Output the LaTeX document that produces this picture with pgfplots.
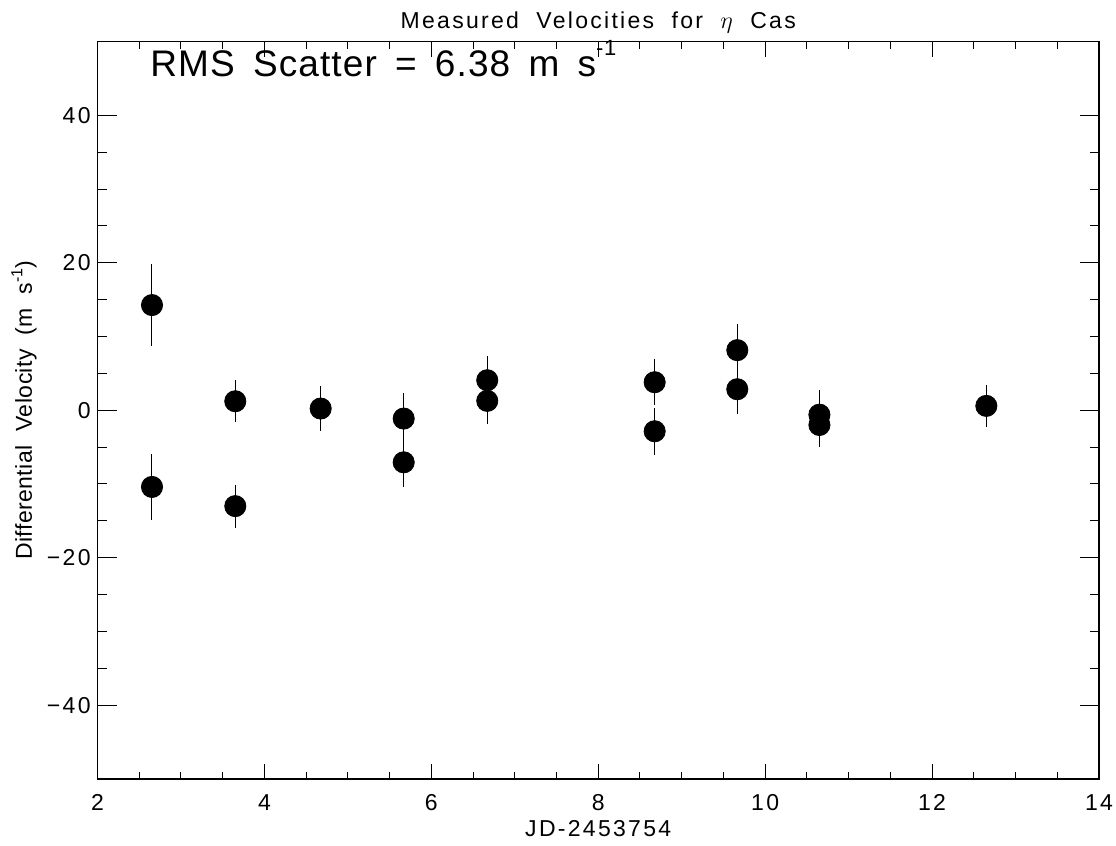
\documentclass[border=0pt]{standalone}
\usepackage{pgfplots}
\pgfplotsset{compat=1.18}
\usepackage{fontspec}
\setmainfont{Liberation Sans}
\newfontfamily\lbl[LetterSpace=10,WordSpace=2]{Liberation Sans}
\newfontfamily\ylbl[LetterSpace=2,WordSpace=2]{Liberation Sans}
\newfontfamily\rmsfont[LetterSpace=3,WordSpace=1.6]{Liberation Sans}
\pgfplotstableread{
x y e
2.653 14.26 5.6
2.653 -10.4 4.5
3.651 1.22 2.85
3.651 -13.0 2.9
4.674 0.23 3.0
5.669 -1.13 3.5
5.669 -7.06 3.35
6.67 4.07 3.3
6.67 1.27 3.2
8.676 3.8 3.1
8.676 -2.85 3.2
9.666 8.15 3.5
9.666 2.85 3.3
10.65 -0.6 3.3
10.65 -2.0 3.0
12.65 0.59 2.9
}\vels
\begin{document}
\begin{tikzpicture}
\begin{axis}[
  at={(0,0)}, anchor=south west,
  scale only axis, width=500.75pt, height=368.75pt,
  xmin=2, xmax=14, ymin=-50, ymax=50,
  xtick={2,4,...,14}, ytick={-40,-20,0,20,40},
  yticklabels={−40,−20,0,20,40},
  minor x tick num=3, minor y tick num=3,
  tick align=inside,
  axis line style={line width=0.6pt},
  tick style={black, line width=0.5pt},
  major tick length=9.7pt, minor tick length=4.7pt,
  xtick style={/pgfplots/major tick length=7.5pt,/pgfplots/minor tick length=3.7pt},
  /pgf/number format/assume math mode=true,
  ticklabel style={font=\lbl\fontsize{11.5}{13}\selectfont},
  xticklabel style={anchor=base, inner sep=0pt, yshift=-16pt},
  yticklabel style={anchor=east, inner sep=0pt, xshift=-3.25pt},
  title={Measured Velocities for $\eta$ Cas},
  title style={font=\lbl\fontsize{11.5}{13}\selectfont, at={(axis description cs:0.5,1)}, anchor=base, inner sep=0pt, yshift=0.75pt},
  xlabel={JD-2453754},
  xlabel style={font=\lbl\fontsize{11.5}{13}\selectfont, at={(axis description cs:0.5,0)}, anchor=base, inner sep=0pt, yshift=-29pt},
  ylabel={Differential Velocity (m s\raisebox{0.8ex}{\fontsize{8}{8}\selectfont -1})},
  ylabel style={font=\ylbl\fontsize{11.5}{13}\selectfont, at={(axis description cs:-0.0654,0.5)}, anchor=base, inner sep=0pt},
  clip=false,
]
\addplot[only marks, mark=*, mark size=5.3pt, black,
  error bars/.cd, y dir=both, y explicit, error mark=none,
  error bar style={line width=0.5pt, black}]
  table[x=x, y=y, y error=e] {\vels};
\node[anchor=base west, inner sep=0pt, font=\rmsfont\fontsize{18.5}{20}\selectfont]
  at (rel axis cs:0.0524,0.952) {RMS Scatter = 6.38 m s\raisebox{1.1ex}{\fontsize{11}{11}\selectfont -1}};
\end{axis}
\pgfresetboundingbox
\path (-48.75pt,-33.5pt) rectangle (509.25pt,389.5pt);
\end{tikzpicture}
\end{document}
